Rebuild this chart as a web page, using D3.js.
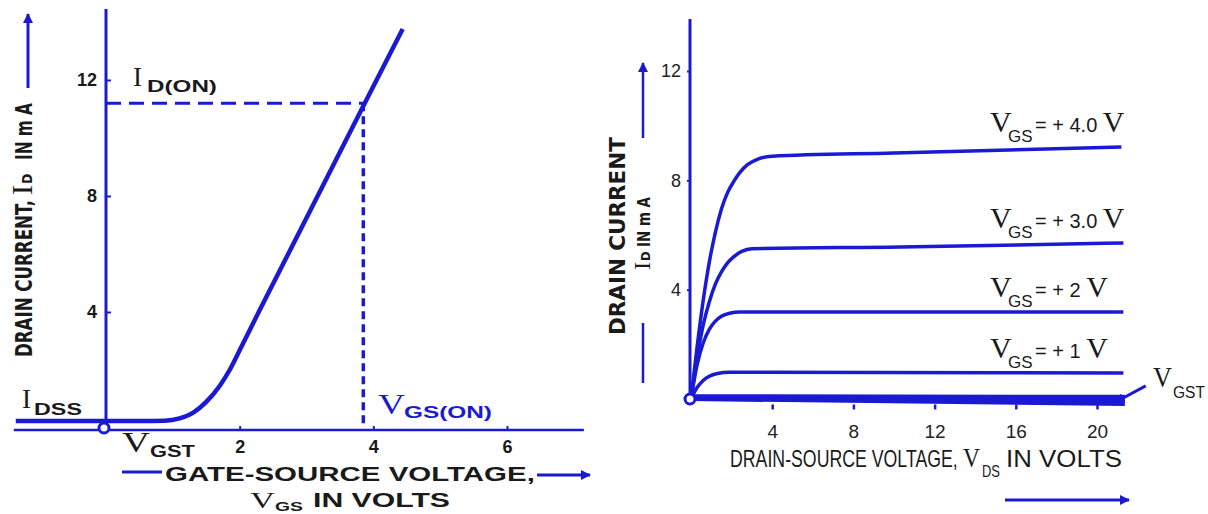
<!DOCTYPE html>
<html>
<head>
<meta charset="utf-8">
<script src="https://cdn.jsdelivr.net/npm/d3@7"></script>
<style>
  body { margin: 0; background: #fff; }
  svg { display: block; }
  .bold { font-family: 'Liberation Sans', Arial, sans-serif; font-weight: bold; }
  .nbold { font-family: 'Liberation Sans Narrow', 'DejaVu Sans Condensed', 'Liberation Sans', Arial, sans-serif; font-weight: bold; }
  .narrow { font-family: 'Liberation Sans Narrow', 'Liberation Sans', Arial, sans-serif; }
  .serif { font-family: 'Liberation Serif', 'Times New Roman', serif; }
</style>
</head>
<body>
<svg id="chart" width="1208" height="514"></svg>
<script>
// transfer characteristic: [V_GS in V, I_D in mA]
const transferCurve = [[-1.35, 0.24], [0.5, 0.24], [0.88, 0.25], [1.1, 0.33], [1.3, 0.52], [1.5, 0.9], [1.7, 1.45], [1.85, 2.0], [2.0, 2.68], [2.3, 4.07], [2.68, 5.79], [3.85, 11.1], [4.44, 13.76]];
const idOn = 11.2;
const vgsOn = 3.85;
const transferXTicks = [2, 4, 6];
const transferYTicks = [4, 8, 12];

// drain characteristics: [V_DS in V, I_D in mA]
const drainVgs4 = [[0, 0], [0.3, 1.9], [0.6, 3.6], [0.9, 5.0], [1.2, 6.1], [1.5, 6.95], [1.8, 7.55], [2.1, 7.95], [2.4, 8.28], [2.8, 8.58], [3.3, 8.78], [4, 8.88], [10, 9.0], [21.2, 9.22]];
const drainVgs3 = [[0, 0], [0.3, 1.5], [0.6, 2.7], [0.9, 3.55], [1.2, 4.2], [1.5, 4.65], [1.8, 4.98], [2.1, 5.2], [2.5, 5.4], [3, 5.5], [10.3, 5.56], [21.3, 5.71]];
const drainVgs2 = [[0, 0], [0.3, 1.25], [0.6, 2.05], [0.9, 2.55], [1.2, 2.85], [1.5, 3.03], [1.9, 3.14], [2.4, 3.18], [21.3, 3.18]];
const drainVgs1 = [[0, 0], [0.3, 0.42], [0.6, 0.68], [0.9, 0.83], [1.3, 0.93], [1.9, 0.98], [21.3, 0.95]];
const drainVgstTop = [[0, 0.12], [21.3, 0.1]];
const drainVgstLow = [[0, -0.02], [21.3, -0.2]];
const vgsLevels = ['+ 4.0', '+ 3.0', '+ 2', '+ 1'];
const drainXTicks = [4, 8, 12, 16, 20];
const drainYTicks = [4, 8, 12];

const blue = '#1a1ad2';
const ink = '#1a1a1a';

const svg = d3.select('#chart');

const defs = svg.append('defs');
defs.append('marker')
    .attr('id', 'head')
    .attr('viewBox', '0 0 10 10')
    .attr('refX', 9).attr('refY', 5)
    .attr('markerUnits', 'userSpaceOnUse')
    .attr('markerWidth', 15).attr('markerHeight', 10)
    .attr('orient', 'auto')
  .append('path')
    .attr('d', 'M0,0 L10,5 L0,10 Z')
    .attr('fill', blue);

// text squeezed (or stretched) horizontally to a given width
function txt(g, x, y, s, cls, size, len) {
  const t = g.append('text')
    .attr('class', cls)
    .attr('font-size', size)
    .attr('fill', ink)
    .text(s);
  let sx = 1;
  if (len) sx = len / t.node().getComputedTextLength();
  t.attr('transform', `translate(${x}, ${y}) scale(${sx}, 1)`);
  return t;
}

function arrow(g, x1, y1, x2, y2, w) {
  g.append('line')
    .attr('x1', x1).attr('y1', y1).attr('x2', x2).attr('y2', y2)
    .attr('stroke', blue).attr('stroke-width', w || 3)
    .attr('marker-end', 'url(#head)');
}

// ---------- left: transfer characteristic ----------
const xL = d3.scaleLinear().domain([0, 6]).range([106, 507]);
const yL = d3.scaleLinear().domain([0, 12]).range([428, 80]);
const left = svg.append('g');

const axY = left.append('g')
    .attr('transform', `translate(${xL(0)}, 0)`)
    .call(d3.axisLeft(yL).tickValues(transferYTicks).tickFormat(d3.format('d'))
      .tickSizeInner(-5).tickSizeOuter(0).tickPadding(9));
axY.select('.domain').remove();
axY.selectAll('line').attr('stroke', blue).attr('stroke-width', 2);
axY.selectAll('text').attr('class', 'bold').attr('font-size', 18).attr('fill', ink);

const axX = left.append('g')
    .attr('transform', `translate(0, ${yL(0) + 2})`)
    .call(d3.axisBottom(xL).tickValues(transferXTicks).tickFormat(d3.format('d'))
      .tickSizeInner(-4).tickSizeOuter(0).tickPadding(10));
axX.select('.domain').remove();
axX.selectAll('line').attr('stroke', blue).attr('stroke-width', 2);
axX.selectAll('text').attr('class', 'bold').attr('font-size', 18).attr('fill', ink);

left.append('line')
    .attr('x1', xL(0)).attr('x2', xL(0))
    .attr('y1', yL(14.45)).attr('y2', yL(0))
    .attr('stroke', blue).attr('stroke-width', 3);
left.append('line')
    .attr('x1', xL(-1.38)).attr('x2', xL(7.15))
    .attr('y1', yL(0) + 2).attr('y2', yL(0) + 2)
    .attr('stroke', blue).attr('stroke-width', 2.5);

left.append('path')
    .datum(transferCurve)
    .attr('d', d3.line().x(d => xL(d[0])).y(d => yL(d[1])).curve(d3.curveMonotoneX))
    .attr('fill', 'none')
    .attr('stroke', blue)
    .attr('stroke-width', 4.5);

left.append('line')
    .attr('x1', xL(0)).attr('x2', xL(vgsOn))
    .attr('y1', yL(idOn)).attr('y2', yL(idOn))
    .attr('stroke', blue).attr('stroke-width', 3)
    .attr('stroke-dasharray', '15 8');
left.append('line')
    .attr('x1', xL(vgsOn)).attr('x2', xL(vgsOn))
    .attr('y1', yL(idOn)).attr('y2', yL(0))
    .attr('stroke', blue).attr('stroke-width', 3.5)
    .attr('stroke-dasharray', '8 5');

left.append('circle')
    .attr('cx', xL(0) - 2).attr('cy', yL(0))
    .attr('r', 5)
    .attr('fill', '#fff')
    .attr('stroke', blue).attr('stroke-width', 3);

// curve labels
txt(left, 133, 86, 'I', 'serif', 27);
txt(left, 147, 92, 'D(ON)', 'bold', 16, 70);
txt(left, 22, 408, 'I', 'serif', 27);
txt(left, 34, 415, 'DSS', 'bold', 16, 48);
txt(left, 122, 452, 'V', 'serif', 29, 28);
txt(left, 150, 457, 'GST', 'bold', 16, 45);
txt(left, 378, 414, 'V', 'serif', 29, 27).attr('fill', blue);
txt(left, 404, 418, 'GS(ON)', 'bold', 16, 88).attr('fill', blue);

// axis titles
const ttlL = left.append('g').attr('transform', 'translate(32, 357) rotate(-90)');
txt(ttlL, 0, 0, 'DRAIN CURRENT,', 'nbold', 23, 157);
txt(ttlL, 162, 0, 'I', 'serif', 30);
txt(ttlL, 173, 0, 'D', 'nbold', 14);
txt(ttlL, 197, 0, 'IN m A', 'nbold', 23, 57);
arrow(left, 28, 88, 28, 14, 3);

left.append('line')
    .attr('x1', 122).attr('x2', 162).attr('y1', 472).attr('y2', 472)
    .attr('stroke', blue).attr('stroke-width', 3);
txt(left, 165, 481, 'GATE-SOURCE VOLTAGE,', 'bold', 21, 370);
arrow(left, 537, 475, 590, 475, 3);
txt(left, 250, 508, 'V', 'serif', 24, 25);
txt(left, 275, 511, 'GS', 'bold', 13, 28);
txt(left, 313, 507, 'IN VOLTS', 'bold', 21, 137);

// ---------- right: drain characteristics ----------
const xR = d3.scaleLinear().domain([0, 20]).range([691, 1097]);
const yR = d3.scaleLinear().domain([0, 12]).range([399, 71]);
const right = svg.append('g');

const ayR = right.append('g')
    .attr('transform', `translate(${xR(0) - 1}, 0)`)
    .call(d3.axisLeft(yR).tickValues(drainYTicks).tickFormat(d3.format('d'))
      .tickSizeInner(3).tickSizeOuter(0).tickPadding(6));
ayR.select('.domain').remove();
ayR.selectAll('line').attr('stroke', blue).attr('stroke-width', 2);
ayR.selectAll('text').attr('class', 'narrow').attr('font-size', 18).attr('fill', '#222');

const axR = right.append('g')
    .attr('transform', `translate(0, ${yR(-0.2)})`)
    .call(d3.axisBottom(xR).tickValues(drainXTicks).tickFormat(d3.format('d'))
      .tickSizeInner(5).tickSizeOuter(0).tickPadding(15));
axR.select('.domain').remove();
axR.selectAll('line').attr('stroke', blue).attr('stroke-width', 2.5);
axR.selectAll('text').attr('class', 'narrow').attr('font-size', 19).attr('fill', '#222');

right.append('line')
    .attr('x1', xR(0) - 1).attr('x2', xR(0) - 1)
    .attr('y1', yR(13.9)).attr('y2', yR(0))
    .attr('stroke', blue).attr('stroke-width', 3);

const drainLine = d3.line().x(d => xR(d[0])).y(d => yR(d[1])).curve(d3.curveMonotoneX);
const drainSeries = [drainVgs4, drainVgs3, drainVgs2, drainVgs1];

right.selectAll('.drain')
    .data(drainSeries)
  .enter().append('path')
    .attr('class', 'drain')
    .attr('d', drainLine)
    .attr('fill', 'none')
    .attr('stroke', blue)
    .attr('stroke-width', 3.5);

// V_GST: the thick band along the axis
right.append('path')
    .datum(drainVgstTop.map((d, i) => [d[0], d[1], drainVgstLow[i][1]]))
    .attr('d', d3.area().x(d => xR(d[0])).y0(d => yR(d[2])).y1(d => yR(d[1])))
    .attr('fill', blue)
    .attr('stroke', blue)
    .attr('stroke-width', 3);

right.append('circle')
    .attr('cx', xR(0) - 1).attr('cy', yR(0))
    .attr('r', 5)
    .attr('fill', '#fff')
    .attr('stroke', blue).attr('stroke-width', 3);

// V_GS labels over each curve
drainSeries.forEach((d, i) => {
  const last = d[d.length - 1];
  const by = yR(last[1]) - 15;
  const t = right.append('text').attr('y', by).attr('fill', ink);
  t.append('tspan').attr('x', 990).attr('class', 'serif').attr('font-size', 30).text('V');
  t.append('tspan').attr('x', 1008).attr('dy', 10).attr('class', 'narrow').attr('font-size', 17).text('GS');
  t.append('tspan').attr('x', 1035).attr('dy', -10).attr('class', 'narrow').attr('font-size', 20).text(`= ${vgsLevels[i]} `);
  t.append('tspan').attr('class', 'serif').attr('font-size', 30).text('V');
});

txt(right, 1153, yR(0.45), 'V', 'serif', 30, 19);
txt(right, 1173, yR(0.05), 'GST', 'narrow', 17, 32);
arrow(right, xR(22.4), yR(0.48), xR(20.9), yR(-0.12), 3);

// axis titles
const ttlR1 = right.append('g').attr('transform', 'translate(625, 335) rotate(-90)');
txt(ttlR1, 0, 0, 'DRAIN CURRENT', 'nbold', 21, 198);
const ttlR2 = right.append('g').attr('transform', 'translate(650, 270) rotate(-90)');
txt(ttlR2, 0, 0, 'I', 'serif', 24);
txt(ttlR2, 9, 0, 'D', 'nbold', 13);
txt(ttlR2, 23, 0, 'IN m A', 'nbold', 18, 50);
arrow(right, 643, 138, 643, 63, 2.5);
right.append('line')
    .attr('x1', 643).attr('x2', 643).attr('y1', 323).attr('y2', 383)
    .attr('stroke', blue).attr('stroke-width', 2.5);

txt(right, 730, 467, 'DRAIN-SOURCE VOLTAGE,', 'narrow', 23, 228);
txt(right, 963, 467, 'V', 'serif', 28, 17);
txt(right, 982, 477, 'DS', 'narrow', 16, 18);
txt(right, 1006, 467, 'IN VOLTS', 'narrow', 23, 116);
arrow(right, 1005, 500, 1129, 500, 3);
</script>
</body>
</html>
